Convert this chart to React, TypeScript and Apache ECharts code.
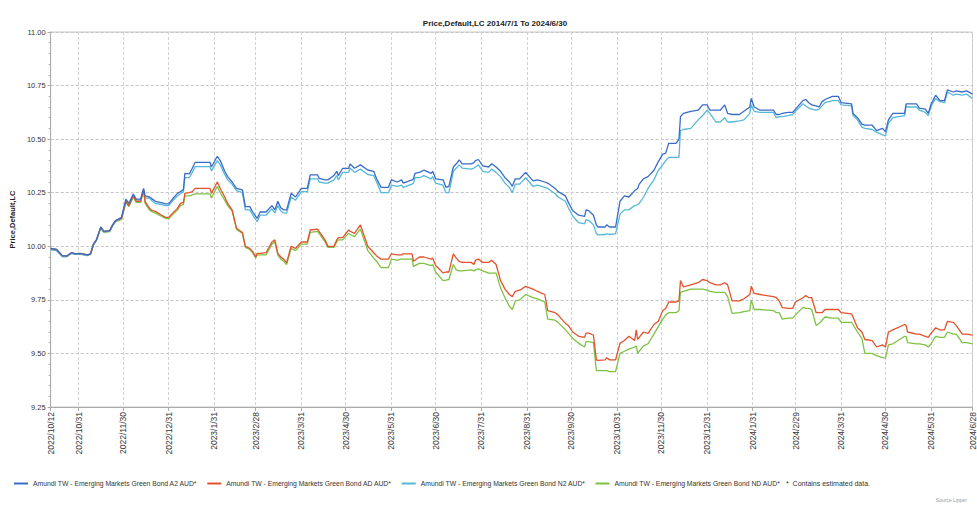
import React, { useEffect, useRef } from "react";
import * as echarts from "echarts";

const seriesNames = [
  "Amundi TW - Emerging Markets Green Bond A2 AUD*",
  "Amundi TW - Emerging Markets Green Bond AD AUD*",
  "Amundi TW - Emerging Markets Green Bond N2 AUD*",
  "Amundi TW - Emerging Markets Green Bond ND AUD*",
];
const seriesColors = ["#3a6cc6", "#e2532d", "#56b8d8", "#7dc242"];

const tickLabels = [
  "2022/10/12", "2022/10/31", "2022/11/30", "2022/12/31", "2023/1/31", "2023/2/28",
  "2023/3/31", "2023/4/30", "2023/5/31", "2023/6/30", "2023/7/31", "2023/8/31",
  "2023/9/30", "2023/10/31", "2023/11/30", "2023/12/31", "2024/1/31", "2024/2/29",
  "2024/3/31", "2024/4/30", "2024/5/31", "2024/6/28",
];

const dates = [
  "2022/10/12", "2022/10/16", "2022/10/20", "2022/10/23", "2022/10/26", "2022/10/29",
  "2022/11/1", "2022/11/6", "2022/11/8", "2022/11/10", "2022/11/12", "2022/11/15",
  "2022/11/17", "2022/11/21", "2022/11/23", "2022/11/25", "2022/11/29", "2022/12/2",
  "2022/12/4", "2022/12/7", "2022/12/9", "2022/12/12", "2022/12/14", "2022/12/15",
  "2022/12/18", "2022/12/20", "2022/12/22", "2022/12/26", "2022/12/29", "2022/12/31",
  "2023/1/3", "2023/1/6", "2023/1/8", "2023/1/10", "2023/1/11", "2023/1/14",
  "2023/1/16", "2023/1/18", "2023/1/28", "2023/1/29", "2023/2/2", "2023/2/4",
  "2023/2/7", "2023/2/9", "2023/2/12", "2023/2/15", "2023/2/19", "2023/2/21",
  "2023/2/24", "2023/2/26", "2023/2/28", "2023/3/1", "2023/3/3", "2023/3/7",
  "2023/3/11", "2023/3/13", "2023/3/15", "2023/3/17", "2023/3/19", "2023/3/21",
  "2023/3/24", "2023/3/27", "2023/3/31", "2023/4/4", "2023/4/6", "2023/4/11",
  "2023/4/12", "2023/4/16", "2023/4/18", "2023/4/22", "2023/4/24", "2023/4/25",
  "2023/4/28", "2023/5/2", "2023/5/3", "2023/5/6", "2023/5/10", "2023/5/15",
  "2023/5/19", "2023/5/21", "2023/5/24", "2023/5/29", "2023/5/31", "2023/6/4",
  "2023/6/7", "2023/6/8", "2023/6/14", "2023/6/15", "2023/6/16", "2023/6/19",
  "2023/6/22", "2023/6/27", "2023/6/28", "2023/6/30", "2023/7/5", "2023/7/7",
  "2023/7/9", "2023/7/12", "2023/7/14", "2023/7/16", "2023/7/18", "2023/7/24",
  "2023/7/26", "2023/7/27", "2023/7/29", "2023/8/1", "2023/8/5", "2023/8/7",
  "2023/8/10", "2023/8/13", "2023/8/16", "2023/8/19", "2023/8/21", "2023/8/23",
  "2023/8/26", "2023/8/30", "2023/9/4", "2023/9/7", "2023/9/12", "2023/9/14",
  "2023/9/19", "2023/9/21", "2023/9/26", "2023/9/28", "2023/10/1", "2023/10/5",
  "2023/10/9", "2023/10/10", "2023/10/12", "2023/10/15", "2023/10/17", "2023/10/18",
  "2023/10/23", "2023/10/24", "2023/10/26", "2023/10/30", "2023/11/2", "2023/11/5",
  "2023/11/8", "2023/11/12", "2023/11/13", "2023/11/14", "2023/11/15", "2023/11/18",
  "2023/11/21", "2023/11/25", "2023/11/28", "2023/12/1", "2023/12/3", "2023/12/5",
  "2023/12/10", "2023/12/12", "2023/12/13", "2023/12/15", "2023/12/20", "2023/12/25",
  "2023/12/28", "2023/12/31", "2024/1/2", "2024/1/6", "2024/1/9", "2024/1/12",
  "2024/1/14", "2024/1/17", "2024/1/22", "2024/1/25", "2024/1/29", "2024/1/30",
  "2024/2/1", "2024/2/5", "2024/2/14", "2024/2/16", "2024/2/18", "2024/2/20",
  "2024/2/24", "2024/2/27", "2024/2/29", "2024/3/5", "2024/3/7", "2024/3/9",
  "2024/3/11", "2024/3/14", "2024/3/16", "2024/3/18", "2024/3/20", "2024/3/25",
  "2024/3/29", "2024/3/31", "2024/4/7", "2024/4/8", "2024/4/11", "2024/4/14",
  "2024/4/16", "2024/4/21", "2024/4/24", "2024/4/28", "2024/4/30", "2024/5/2",
  "2024/5/5", "2024/5/13", "2024/5/14", "2024/5/15", "2024/5/21", "2024/5/23",
  "2024/5/27", "2024/5/29", "2024/5/31", "2024/6/3", "2024/6/6", "2024/6/9",
  "2024/6/11", "2024/6/15", "2024/6/17", "2024/6/21", "2024/6/24", "2024/6/28",
];

const a2Values = [
  9.99, 9.985, 9.955, 9.955, 9.97, 9.965,
  9.967, 9.96, 9.965, 10.01, 10.03, 10.09,
  10.07, 10.073, 10.1, 10.12, 10.135, 10.22,
  10.2, 10.244, 10.22, 10.22, 10.27, 10.235,
  10.23, 10.22, 10.21, 10.204, 10.198, 10.198,
  10.224, 10.247, 10.255, 10.265, 10.34, 10.338,
  10.364, 10.392, 10.392, 10.37, 10.42, 10.4,
  10.35, 10.325, 10.3, 10.27, 10.263, 10.185,
  10.185, 10.16, 10.14, 10.13, 10.16, 10.16,
  10.19, 10.17, 10.21, 10.18, 10.17, 10.17,
  10.247, 10.23, 10.27, 10.27, 10.333, 10.333,
  10.317, 10.31, 10.31, 10.33, 10.35, 10.33,
  10.364, 10.364, 10.384, 10.364, 10.38, 10.356,
  10.35, 10.315, 10.275, 10.275, 10.31, 10.3,
  10.31, 10.295, 10.31, 10.315, 10.34, 10.345,
  10.355, 10.34, 10.35, 10.315, 10.31, 10.275,
  10.28, 10.37, 10.385, 10.403, 10.385, 10.385,
  10.39, 10.4, 10.405, 10.375, 10.37, 10.385,
  10.37, 10.35, 10.32, 10.3, 10.28, 10.315,
  10.315, 10.345, 10.305, 10.31, 10.3, 10.295,
  10.27, 10.255, 10.235, 10.205, 10.166, 10.145,
  10.14, 10.17, 10.165, 10.145, 10.1, 10.09,
  10.09, 10.1, 10.09, 10.09, 10.21, 10.235,
  10.23, 10.26, 10.265, 10.27, 10.29, 10.315,
  10.325, 10.355, 10.395, 10.43, 10.435, 10.48,
  10.48, 10.5, 10.605, 10.62, 10.63, 10.635,
  10.66, 10.66, 10.635, 10.635, 10.635, 10.66,
  10.62, 10.615, 10.615, 10.63, 10.65, 10.69,
  10.65, 10.635, 10.635, 10.615, 10.615, 10.62,
  10.625, 10.625, 10.64, 10.68, 10.685, 10.67,
  10.66, 10.655, 10.65, 10.675, 10.685, 10.7,
  10.7, 10.67, 10.665, 10.62, 10.6, 10.57,
  10.565, 10.565, 10.54, 10.55, 10.535, 10.59,
  10.62, 10.62, 10.665, 10.665, 10.665, 10.645,
  10.64, 10.62, 10.665, 10.705, 10.68, 10.68,
  10.73, 10.72, 10.725, 10.72, 10.725, 10.71,
];

const adValues = [
  9.99, 9.985, 9.955, 9.955, 9.97, 9.965,
  9.967, 9.96, 9.965, 10.01, 10.03, 10.09,
  10.07, 10.073, 10.1, 10.12, 10.13, 10.21,
  10.19, 10.235, 10.21, 10.21, 10.265, 10.21,
  10.177, 10.166, 10.163, 10.146, 10.135, 10.135,
  10.157, 10.177, 10.2, 10.205, 10.247, 10.25,
  10.255, 10.27, 10.27, 10.247, 10.3, 10.27,
  10.23, 10.2, 10.17, 10.084, 10.064, 10.0,
  9.99, 9.975, 9.95, 9.967, 9.967, 9.97,
  10.02, 10.03, 9.967, 9.95, 9.94, 9.924,
  10.0, 9.99, 10.02, 10.02, 10.076, 10.08,
  10.07, 10.03, 10.0, 10.0, 10.03, 10.04,
  10.04, 10.076, 10.07, 10.06, 10.1, 10.0,
  9.97, 9.955, 9.94, 9.94, 9.965, 9.96,
  9.96, 9.965, 9.965, 9.93, 9.935, 9.95,
  9.95, 9.94, 9.945, 9.91, 9.876, 9.88,
  9.88, 9.965, 9.945, 9.93, 9.925, 9.925,
  9.915, 9.935, 9.94, 9.925, 9.925, 9.935,
  9.915, 9.84, 9.8, 9.775, 9.765, 9.79,
  9.795, 9.813, 9.8, 9.79, 9.775, 9.7,
  9.69, 9.68, 9.64, 9.63, 9.6, 9.58,
  9.575, 9.595, 9.595, 9.585, 9.47, 9.468,
  9.47, 9.48, 9.47, 9.47, 9.547, 9.56,
  9.58, 9.56, 9.61, 9.565, 9.575, 9.6,
  9.594, 9.635, 9.65, 9.7, 9.71, 9.74,
  9.74, 9.745, 9.84, 9.81, 9.82, 9.83,
  9.845, 9.84, 9.83, 9.82, 9.82, 9.83,
  9.82, 9.745, 9.745, 9.755, 9.775, 9.813,
  9.78, 9.775, 9.765, 9.76, 9.745, 9.714,
  9.71, 9.71, 9.74, 9.76, 9.77, 9.76,
  9.76, 9.69, 9.69, 9.69, 9.705, 9.705,
  9.705, 9.69, 9.685, 9.67, 9.62, 9.6,
  9.565, 9.56, 9.53, 9.54, 9.53, 9.6,
  9.61, 9.635, 9.63, 9.6, 9.59, 9.59,
  9.58, 9.575, 9.595, 9.62, 9.61, 9.61,
  9.65, 9.645, 9.63, 9.59, 9.59, 9.585,
];

const n2Values = [
  9.985, 9.98, 9.952, 9.952, 9.967, 9.962,
  9.964, 9.957, 9.962, 10.007, 10.027, 10.087,
  10.067, 10.07, 10.097, 10.117, 10.13, 10.215,
  10.195, 10.24, 10.215, 10.215, 10.265, 10.225,
  10.225, 10.21, 10.2, 10.195, 10.19, 10.19,
  10.215, 10.235, 10.245, 10.255, 10.32, 10.32,
  10.345, 10.372, 10.372, 10.352, 10.4, 10.38,
  10.335, 10.31, 10.29, 10.26, 10.25, 10.17,
  10.17, 10.145, 10.125, 10.115, 10.145, 10.145,
  10.175, 10.155, 10.19, 10.165, 10.155, 10.155,
  10.23, 10.215, 10.255, 10.255, 10.315, 10.315,
  10.3, 10.295, 10.295, 10.31, 10.33, 10.31,
  10.345, 10.345, 10.365, 10.345, 10.36, 10.335,
  10.33, 10.3, 10.25, 10.25, 10.285, 10.28,
  10.285, 10.275, 10.29, 10.295, 10.32, 10.32,
  10.33, 10.315, 10.325, 10.295, 10.285, 10.25,
  10.25, 10.35, 10.365, 10.38, 10.365, 10.36,
  10.365, 10.37, 10.38, 10.35, 10.345, 10.36,
  10.345, 10.325, 10.295, 10.275, 10.25, 10.29,
  10.29, 10.32, 10.28, 10.285, 10.275, 10.27,
  10.245, 10.23, 10.21, 10.18, 10.14, 10.11,
  10.105, 10.125, 10.12, 10.1, 10.06, 10.053,
  10.055, 10.058, 10.055, 10.058, 10.15, 10.17,
  10.17, 10.19, 10.192, 10.195, 10.2, 10.23,
  10.27, 10.31, 10.355, 10.38, 10.4, 10.415,
  10.415, 10.415, 10.54, 10.545, 10.55, 10.59,
  10.61, 10.635, 10.62, 10.58, 10.58, 10.6,
  10.58, 10.58, 10.585, 10.59, 10.62, 10.66,
  10.63, 10.625, 10.625, 10.6, 10.605, 10.605,
  10.61, 10.615, 10.63, 10.665, 10.655, 10.645,
  10.64, 10.635, 10.64, 10.655, 10.67, 10.68,
  10.68, 10.66, 10.655, 10.61, 10.59, 10.556,
  10.55, 10.545, 10.533, 10.52, 10.515, 10.575,
  10.6, 10.61, 10.655, 10.65, 10.65, 10.635,
  10.625, 10.61, 10.655, 10.69, 10.675, 10.67,
  10.72, 10.705, 10.71, 10.705, 10.71, 10.69,
];

const ndValues = [
  9.985, 9.98, 9.952, 9.952, 9.967, 9.962,
  9.964, 9.957, 9.962, 10.007, 10.027, 10.085,
  10.065, 10.068, 10.095, 10.115, 10.125, 10.205,
  10.185, 10.23, 10.205, 10.205, 10.26, 10.2,
  10.17, 10.16, 10.155, 10.14, 10.13, 10.128,
  10.15, 10.17, 10.19, 10.195, 10.235, 10.235,
  10.24, 10.245, 10.245, 10.225, 10.28, 10.25,
  10.215, 10.19, 10.165, 10.08, 10.06, 9.995,
  9.985, 9.97, 9.945, 9.96, 9.96, 9.96,
  10.01, 10.02, 9.96, 9.94, 9.93, 9.915,
  9.99, 9.98, 10.01, 10.01, 10.065, 10.07,
  10.06, 10.02, 9.995, 9.995, 10.02, 10.03,
  10.03, 10.06, 10.055, 10.045, 10.08, 9.98,
  9.945, 9.93, 9.9, 9.9, 9.94, 9.935,
  9.94, 9.94, 9.94, 9.905, 9.91, 9.92,
  9.92, 9.91, 9.915, 9.88, 9.84, 9.842,
  9.845, 9.915, 9.89, 9.885, 9.885, 9.89,
  9.885, 9.89, 9.895, 9.885, 9.875, 9.875,
  9.875, 9.806, 9.76, 9.72, 9.705, 9.745,
  9.75, 9.775, 9.76, 9.755, 9.74, 9.66,
  9.655, 9.645, 9.61, 9.595, 9.57, 9.547,
  9.53, 9.555, 9.555, 9.55, 9.42, 9.42,
  9.42, 9.42, 9.415, 9.415, 9.5, 9.51,
  9.52, 9.53, 9.535, 9.5, 9.51, 9.535,
  9.545, 9.59, 9.625, 9.66, 9.68, 9.69,
  9.69, 9.7, 9.785, 9.79, 9.8, 9.8,
  9.8, 9.795, 9.79, 9.785, 9.785, 9.785,
  9.765, 9.687, 9.69, 9.695, 9.7, 9.75,
  9.705, 9.705, 9.7, 9.69, 9.69, 9.66,
  9.665, 9.665, 9.68, 9.715, 9.71, 9.71,
  9.705, 9.63, 9.64, 9.655, 9.67, 9.665,
  9.665, 9.645, 9.645, 9.635, 9.6, 9.57,
  9.5, 9.5, 9.49, 9.48, 9.478, 9.54,
  9.545, 9.58, 9.58, 9.55, 9.545, 9.545,
  9.54, 9.53, 9.545, 9.58, 9.575, 9.575,
  9.6, 9.59, 9.59, 9.55, 9.55, 9.545,
];

const yTicks = { min: 9.25, max: 11.0, interval: 0.25 };

function buildCategories(first: string, last: string): string[] {
  const [y0, m0, d0] = first.split("/").map(Number);
  const [y1, m1, d1] = last.split("/").map(Number);
  const cur = new Date(y0, m0 - 1, d0);
  const end = new Date(y1, m1 - 1, d1);
  const out: string[] = [];
  while (cur <= end) {
    out.push(`${cur.getFullYear()}/${cur.getMonth() + 1}/${cur.getDate()}`);
    cur.setDate(cur.getDate() + 1);
  }
  return out;
}

const FONT = "'Liberation Sans', Arial, sans-serif";

export default function App() {
  const ref = useRef<HTMLDivElement>(null);
  useEffect(() => {
    if (!ref.current) return;
    const chart = echarts.init(ref.current, undefined, { renderer: "svg" });
    const categories = buildCategories(tickLabels[0], tickLabels[tickLabels.length - 1]);
    const tickSet = new Set(tickLabels);
    const showTick = (_i: number, v: string) => tickSet.has(v);
    const valueLists = [a2Values, adValues, n2Values, ndValues];
    chart.setOption({
      animation: false,
      backgroundColor: "#ffffff",
      title: {
        text: "Price,Default,LC 2014/7/1 To 2024/6/30",
        left: 490,
        top: 14,
        textAlign: "center",
        textStyle: { fontFamily: FONT, fontSize: 8, fontWeight: "bold", color: "#222" },
      },
      legend: {
        left: 14,
        top: 480,
        padding: 0,
        icon: "rect",
        itemWidth: 14,
        itemHeight: 2,
        itemGap: 10,
        textStyle: { fontFamily: FONT, fontSize: 6.8, color: "#333" },
        data: seriesNames,
      },
      graphic: [
        {
          type: "text",
          left: 786,
          top: 480,
          style: { text: "*  Contains estimated data.", font: `7px ${FONT}`, fill: "#333" },
        },
        {
          type: "text",
          right: 10,
          top: 497,
          style: { text: "Source Lipper", font: `5px ${FONT}`, fill: "#999" },
        },
      ],
      grid: {
        left: 44,
        right: 4,
        top: 32,
        bottom: 98,
        show: true,
        borderColor: "#c8c8c8",
        borderWidth: 1,
      },
      xAxis: {
        type: "category",
        data: categories,
        boundaryGap: false,
        axisLine: { lineStyle: { color: "#aaa" } },
        axisTick: { show: true, interval: showTick, length: 4, lineStyle: { color: "#aaa" } },
        axisLabel: {
          interval: showTick,
          rotate: 90,
          margin: 5,
          fontFamily: FONT,
          fontSize: 8.5,
          color: "#333",
        },
        splitLine: {
          show: true,
          interval: showTick,
          lineStyle: { color: "#d2d2d2", type: [3, 2], width: 1 },
        },
      },
      yAxis: {
        type: "value",
        min: yTicks.min,
        max: yTicks.max,
        interval: yTicks.interval,
        name: "Price,Default,LC",
        nameLocation: "middle",
        nameGap: 30,
        nameRotate: 90,
        nameTextStyle: { fontFamily: FONT, fontSize: 7.5, fontWeight: "bold", color: "#222" },
        axisLine: { show: true, lineStyle: { color: "#aaa" } },
        axisTick: { show: true, length: 3, lineStyle: { color: "#aaa" } },
        minorTick: { show: true, splitNumber: 5, length: 2, lineStyle: { color: "#aaa" } },
        axisLabel: {
          margin: 5,
          fontFamily: FONT,
          fontSize: 7.5,
          color: "#333",
          formatter: (v: number) => v.toFixed(2),
        },
        splitLine: { show: true, lineStyle: { color: "#c4c4c4", type: [3, 2], width: 1 } },
      },
      series: seriesNames.map((name, k) => ({
        name,
        type: "line",
        showSymbol: false,
        symbol: "none",
        color: seriesColors[k],
        lineStyle: { width: 1.3, color: seriesColors[k] },
        z: k === 0 ? 6 : k === 1 ? 5 : k === 2 ? 4 : 3,
        data: dates.map((d, i) => [d, valueLists[k][i]]),
      })),
    });
    return () => chart.dispose();
  }, []);
  return (
    <div
      ref={ref}
      style={{ position: "absolute", left: 0, top: 0, width: 977, height: 505 }}
    />
  );
}
